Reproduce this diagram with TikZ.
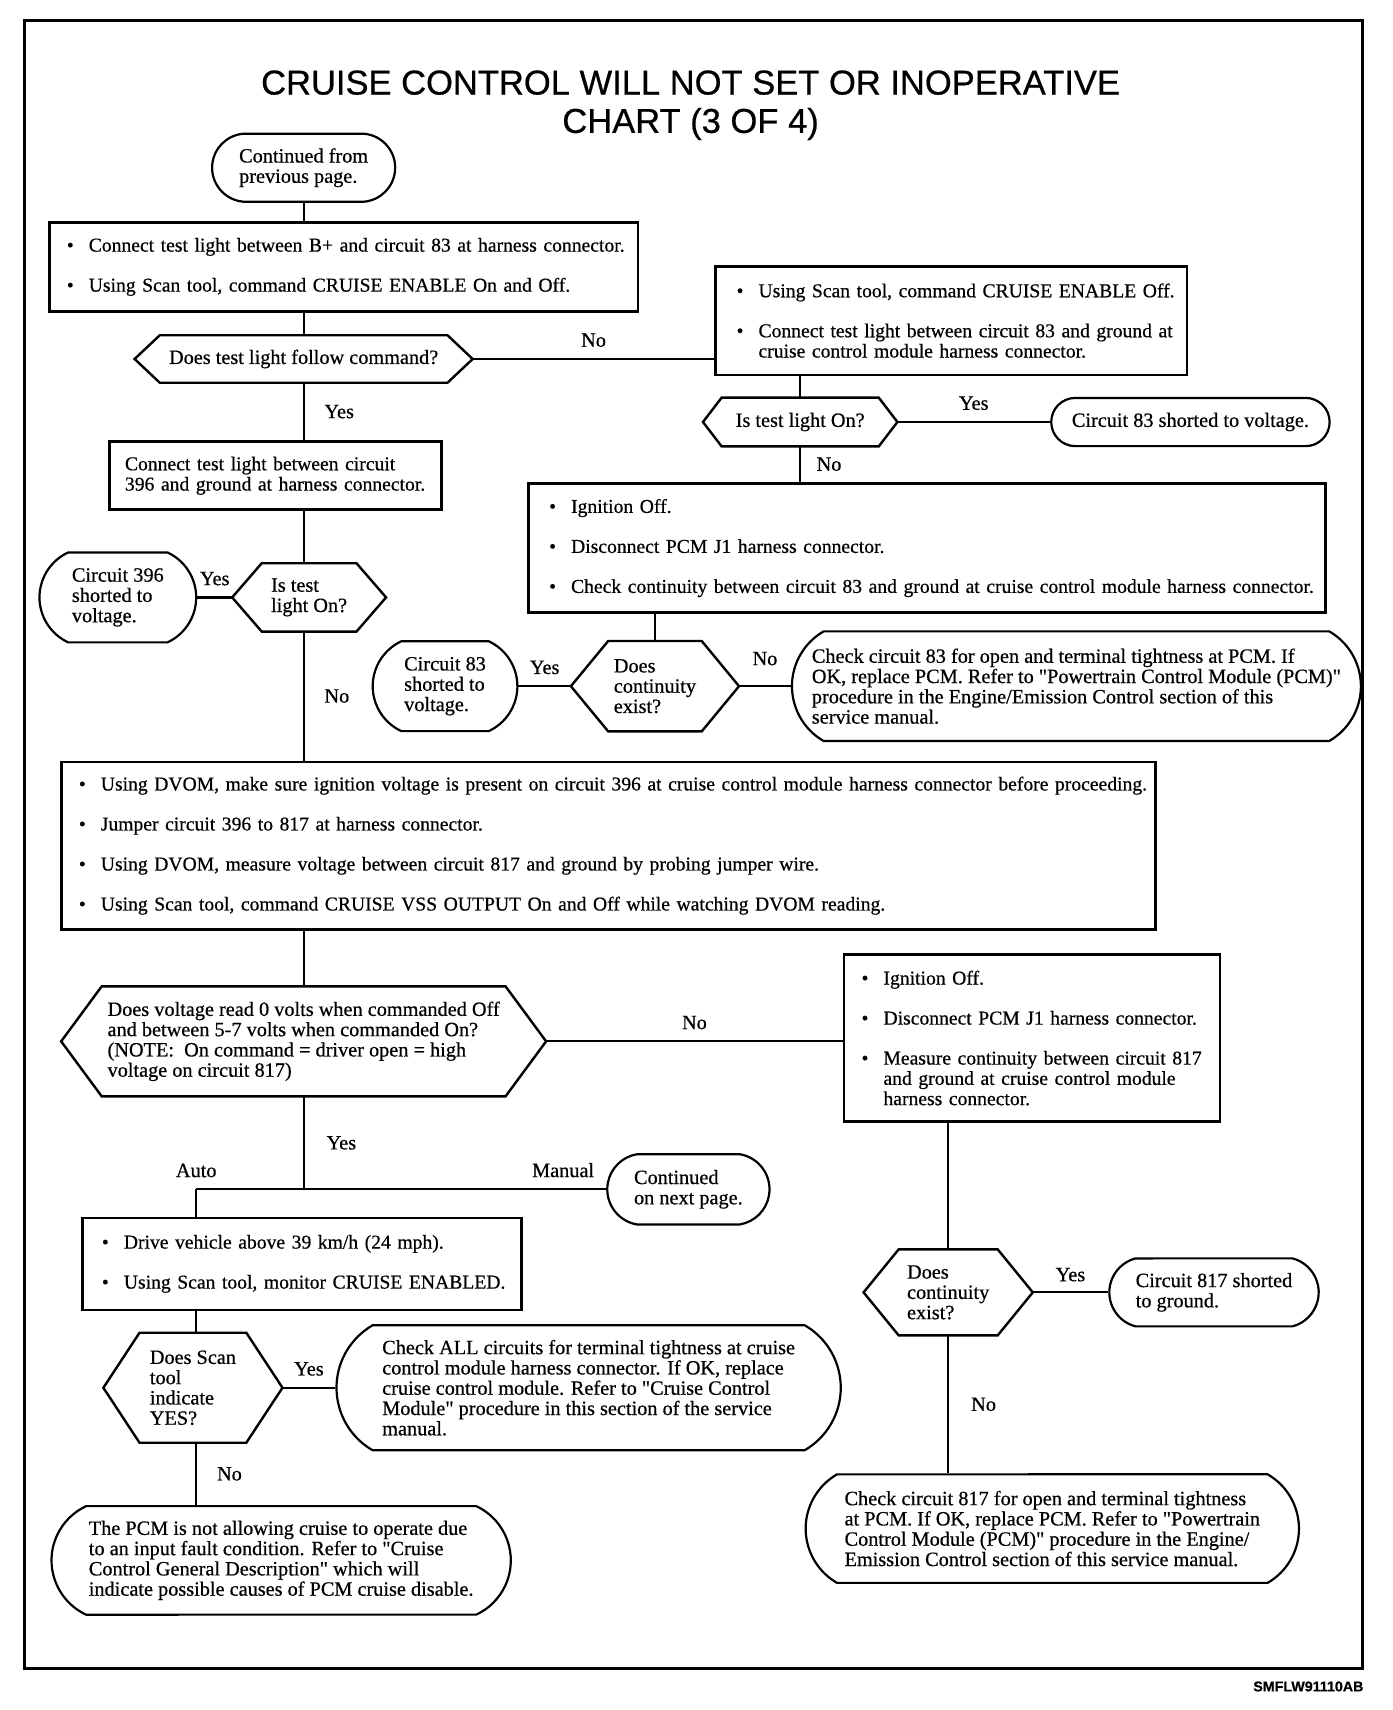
\documentclass[tikz,border=0pt]{standalone}
\usepackage{fontspec}
\usetikzlibrary{shapes.misc}

\newfontfamily\scanserif{Liberation Serif}[FakeBold=0.6]
\newfontfamily\scansans{Liberation Sans}[FakeBold=0.6]
\newcommand{\flowfont}{\scanserif\fontsize{18.5}{18.5}\selectfont}
\newcommand{\boxfont}{\scanserif\fontsize{17.9}{18.5}\selectfont}
% one unbroken line in a box: with a bullet, indented, or plain
\newcommand{\bt}[1]{\mbox{\makebox[20pt][l]{\textbullet}#1}}
\newcommand{\ind}[1]{\mbox{\hspace*{20pt}#1}}
\newcommand{\oneline}[1]{\mbox{#1}}
% hexagon round an invisible node: name, depth of the points
\newcommand{\hexa}[2]{\draw[line width=2.2pt] (#1.west) -- ([xshift=#2]#1.north west) -- ([xshift=-#2]#1.north east) -- (#1.east) -- ([xshift=-#2]#1.south east) -- ([xshift=#2]#1.south west) -- cycle;}

\tikzset{
  box/.style={draw, rectangle, line width=2.4pt, inner sep=0pt, align=left, font=\boxfont},
  ask/.style={rectangle, inner sep=0pt, align=left, font=\flowfont},
  term/.style={draw, rounded rectangle, line width=2pt, inner sep=0pt, align=left, font=\flowfont},
  wire/.style={line width=2pt},
  lbl/.style={inner sep=2pt, font=\flowfont},
}

\begin{document}
\begin{tikzpicture}[x=1pt,y=-1pt]

	\useasboundingbox (0,0) rectangle (1270,1560);
	\draw[line width=2.6pt] (22,19) rectangle (1243,1522);

	% heading and drawing number
	\node[font=\scansans\fontsize{31.5}{35}\selectfont, align=center] (head) at (630,96) {CRUISE CONTROL WILL NOT SET OR INOPERATIVE\\CHART (3 OF 4)};
	\node[font=\scansans\bfseries\fontsize{13}{13}\selectfont, anchor=base east, inner sep=0pt] (code) at (1244,1543) {SMFLW91110AB};

	% left column
	\node[term, minimum width=167, minimum height=62, rounded rectangle arc length=170] (start) at (277,153) {Continued from\\previous page.};
	\node[box, minimum width=537, minimum height=81, text width=505] (enable) at (313.5,243.5) {\bt{Connect test light between B+ and circuit 83 at harness connector.}\\[18pt]\bt{Using Scan tool, command CRUISE ENABLE On and Off.}};
	\node[ask, minimum width=308, minimum height=43] (ask1) at (277,327.5) {Does test light follow command?};
	\hexa{ask1}{23}
	\node[box, minimum width=303, minimum height=62, text width=275] (test396) at (251.5,434) {\oneline{Connect test light between circuit}\\\oneline{396 and ground at harness connector.}};
	\node[ask, minimum width=140, minimum height=62] (ask4) at (282,545) {Is test\\light On?};
	\hexa{ask4}{27}
	\node[term, minimum width=143, minimum height=82, rounded rectangle arc length=130] (short396) at (107.5,545) {Circuit 396\\shorted to\\voltage.};

	% right column, top
	\node[box, minimum width=430, minimum height=99, text width=392] (offtest) at (868,292.5) {\bt{Using Scan tool, command CRUISE ENABLE Off.}\\[18pt]\bt{Connect test light between circuit 83 and ground at}\\\ind{cruise control module harness connector.}};
	\node[ask, minimum width=177, minimum height=44] (ask2) at (730,385) {Is test light On?};
	\hexa{ask2}{17}
	\node[term, minimum width=254, minimum height=44] (short83) at (1086,385) {Circuit 83 shorted to voltage.};
	\node[box, minimum width=727, minimum height=118, text width=689] (ign1) at (845.5,500) {\bt{Ignition Off.}\\[18pt]\bt{Disconnect PCM J1 harness connector.}\\[18pt]\bt{Check continuity between circuit 83 and ground at cruise control module harness connector.}};
	\node[ask, minimum width=153, minimum height=82] (ask3) at (597.5,626) {Does\\continuity\\exist?};
	\hexa{ask3}{34}
	\node[term, minimum width=519, minimum height=100, rounded rectangle arc length=120] (check83) at (982,626) {Check circuit 83 for open and terminal tightness at PCM. If\\OK, replace PCM. Refer to "Powertrain Control Module (PCM)"\\procedure in the Engine/Emission Control section of this\\service manual.};
	\node[term, minimum width=132, minimum height=82, rounded rectangle arc length=130] (short83b) at (406,626) {Circuit 83\\shorted to\\voltage.};

	% middle
	\node[box, minimum width=998, minimum height=153, text width=966] (dvom) at (555,771.5) {\bt{Using DVOM, make sure ignition voltage is present on circuit 396 at cruise control module harness connector before proceeding.}\\[18pt]\bt{Jumper circuit 396 to 817 at harness connector.}\\[18pt]\bt{Using DVOM, measure voltage between circuit 817 and ground by probing jumper wire.}\\[18pt]\bt{Using Scan tool, command CRUISE VSS OUTPUT On and Off while watching DVOM reading.}};
	\node[ask, minimum width=442, minimum height=100] (ask5) at (277,950) {Does voltage read 0 volts when commanded Off\\and between 5-7 volts when commanded On?\\(NOTE:\ \ On command = driver open = high\\voltage on circuit 817)};
	\hexa{ask5}{37}
	\node[box, minimum width=343, minimum height=152, text width=311] (ign2) at (941.5,947) {\bt{Ignition Off.}\\[18pt]\bt{Disconnect PCM J1 harness connector.}\\[18pt]\bt{Measure continuity between circuit 817}\\\ind{and ground at cruise control module}\\\ind{harness connector.}};
	\node[ask, minimum width=154, minimum height=78] (ask6) at (865,1179) {Does\\continuity\\exist?};
	\hexa{ask6}{32}
	\node[term, minimum width=191, minimum height=62, rounded rectangle arc length=150] (short817) at (1107.5,1179) {Circuit 817 shorted\\to ground.};
	\node[term, minimum width=450, minimum height=99, rounded rectangle arc length=120] (check817) at (960,1394.5) {Check circuit 817 for open and terminal tightness\\at PCM. If OK, replace PCM. Refer to "Powertrain\\Control Module (PCM)" procedure in the Engine/\\Emission Control section of this service manual.};

	% bottom left
	\coordinate (split) at (277,1085);
	\coordinate (auto) at (179,1085);
	\node[term, minimum width=148, minimum height=64, rounded rectangle arc length=160] (next) at (628,1085) {Continued\\on next page.};
	\node[box, minimum width=401, minimum height=84, text width=365] (drive) at (275.5,1153) {\bt{Drive vehicle above 39 km/h (24 mph).}\\[18pt]\bt{Using Scan tool, monitor CRUISE ENABLED.}};
	\node[ask, minimum width=163, minimum height=100] (ask7) at (176,1266) {Does Scan\\tool\\indicate\\YES?};
	\hexa{ask7}{33}
	\node[term, minimum width=460, minimum height=114, rounded rectangle arc length=120] (checkall) at (537,1266) {Check ALL circuits for terminal tightness at cruise\\control module harness connector. If OK, replace\\cruise control module. Refer to "Cruise Control\\Module" procedure in this section of the service\\manual.};
	\node[term, minimum width=419, minimum height=99, rounded rectangle arc length=130] (pcm) at (256.5,1423.5) {The PCM is not allowing cruise to operate due\\to an input fault condition. Refer to "Cruise\\Control General Description" which will\\indicate possible causes of PCM cruise disable.};

	% connectors
	\draw[wire] (start.south) -- (start.south |- enable.north);
	\draw[wire] (enable.south -| ask1.north) -- (ask1.north);
	\draw[wire] (ask1.east) -- (ask1.east -| offtest.west) node[lbl, midway, above=8pt] {No};
	\draw[wire] (offtest.south -| ask2.north) -- (ask2.north);
	\draw[wire] (ask2.east) -- (short83.west) node[lbl, midway, above=8pt] {Yes};
	\draw[wire] (ask2.south) -- (ask2.south |- ign1.north) node[lbl, midway, right=12pt] {No};
	\draw[wire] (ign1.south -| ask3.north) -- (ask3.north);
	\draw[wire] (ask3.west) -- (short83b.east) node[lbl, midway, above=8pt] {Yes};
	\draw[wire] (ask3.east) -- (check83.west) node[lbl, midway, above=16pt] {No};
	\draw[wire] (ask1.south) -- (ask1.south |- test396.north) node[lbl, midway, right=16pt] {Yes};
	\draw[wire] (test396.south -| ask1.south) -- (ask4.north -| ask1.south);
	\draw[wire] (ask4.west) -- (short396.east) node[lbl, midway, above=8pt] {Yes};
	\draw[wire] (ask4.south -| ask1.south) -- (dvom.north -| ask1.south) node[lbl, midway, right=16pt] {No};
	\draw[wire] (dvom.south -| ask5.north) -- (ask5.north);
	\draw[wire] (ask5.east) -- (ask5.east -| ign2.west) node[lbl, midway, above=8pt] {No};
	\draw[wire] (ign2.south -| ask6.north) -- (ask6.north);
	\draw[wire] (ask6.east) -- (short817.west) node[lbl, midway, above=7pt] {Yes};
	\draw[wire] (ask6.south) -- (ask6.south |- check817.north) node[lbl, midway, right=18pt] {No};
	\draw[wire] (ask5.south) -- (split) node[lbl, midway, right=18pt] {Yes};
	\draw[wire] (auto) node[lbl, above=8pt] {Auto} -- (auto -| next.west) node[lbl, above left=8pt] {Manual};
	\draw[wire] (auto) -- (auto |- drive.north);
	\draw[wire] (drive.south -| auto) -- (ask7.north -| auto);
	\draw[wire] (ask7.east) -- (checkall.west) node[lbl, midway, above=8pt] {Yes};
	\draw[wire] (ask7.south -| auto) -- (pcm.north -| auto) node[lbl, midway, right=16pt] {No};

\end{tikzpicture}
\end{document}
